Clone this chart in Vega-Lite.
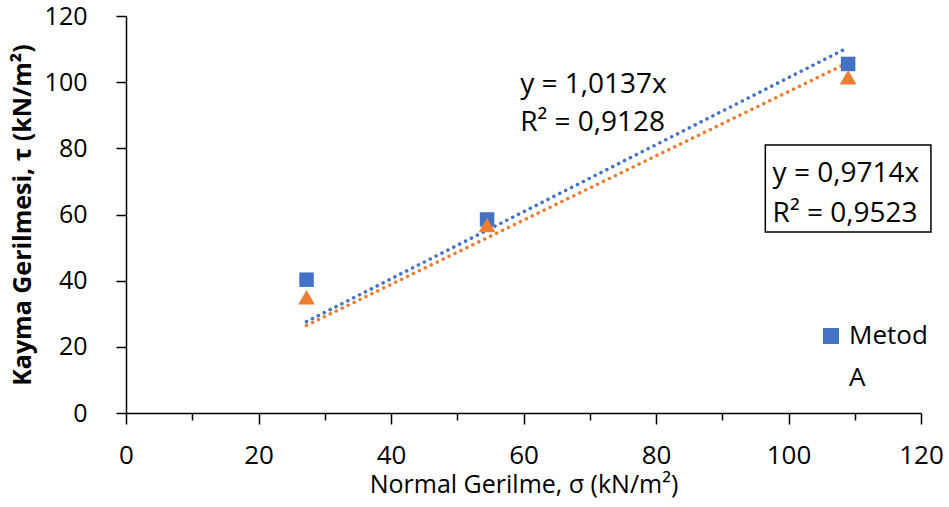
{
  "$schema": "https://vega.github.io/schema/vega-lite/v6.json",
  "width": 795,
  "height": 397,
  "autosize": {"type": "none"},
  "padding": {"left": 126, "top": 16, "right": 28, "bottom": 94},
  "background": "white",
  "config": {
    "view": {"stroke": null},
    "font": "Open Sans",
    "style": {"guide-label": {"lineHeight": 42}},
    "axis": {"grid": false, "domainColor": "black", "tickColor": "black", "domainWidth": 1.5, "tickWidth": 1.5, "labelColor": "black", "titleColor": "black", "labelFont": "Open Sans", "titleFont": "Open Sans"}
  },
  "datasets": {
    "pts": [
      {"sigma": 27.25, "tau": 40.3, "metod": "Metod A"},
      {"sigma": 54.5, "tau": 58.5, "metod": "Metod A"},
      {"sigma": 109, "tau": 105.5, "metod": "Metod A"},
      {"sigma": 27.25, "tau": 35.0, "metod": "Metod B"},
      {"sigma": 54.5, "tau": 56.8, "metod": "Metod B"},
      {"sigma": 109, "tau": 101.5, "metod": "Metod B"}
    ],
    "trend": [
      {"sigma": 27.25, "tau": 27.62, "metod": "Metod A"},
      {"sigma": 109, "tau": 110.49, "metod": "Metod A"},
      {"sigma": 27.25, "tau": 26.47, "metod": "Metod B"},
      {"sigma": 109, "tau": 105.88, "metod": "Metod B"}
    ],
    "notes": [
      {"label": "eq1"}
    ]
  },
  "layer": [
    {
      "data": {"name": "trend"},
      "mark": {"type": "line", "strokeDash": [0.1, 6.5], "strokeCap": "round", "strokeWidth": 3.5},
      "encoding": {
        "x": {"field": "sigma", "type": "quantitative",
          "scale": {"domain": [0, 120], "nice": false},
          "axis": {"values": [0,5,10,15,20,25,30,35,40,45,50,55,60,65,70,75,80,85,90,95,100,105,110,115,120],
            "labelExpr": "datum.value % 20 === 0 ? datum.label : ''",
            "tickSize": {"condition": {"test": "datum.value % 20 === 0", "value": 11}, "value": 7},
            "labelPadding": 18, "labelFontSize": 26, "labelFlush": false,
            "title": "Normal Gerilme, σ (kN/m²)", "titleFontSize": 25, "titleFontWeight": "normal", "titlePadding": 4}},
        "y": {"field": "tau", "type": "quantitative",
          "scale": {"domain": [0, 120], "nice": false},
          "axis": {"values": [0,5,10,15,20,25,30,35,40,45,50,55,60,65,70,75,80,85,90,95,100,105,110,115,120],
            "labelExpr": "datum.value % 20 === 0 ? datum.label : ''",
            "tickSize": {"condition": {"test": "datum.value % 20 === 0", "value": 10}, "value": 8},
            "labelPadding": 29, "labelFontSize": 25, "labelFlush": false,
            "title": "Kayma Gerilmesi, τ (kN/m²)", "titleFontSize": 25, "titleFontWeight": "bold", "titlePadding": 9,
            "titleAnchor": "middle", "titleY": 198.5, "titleAlign": "center", "titleAngle": 270}},
        "color": {"field": "metod", "type": "nominal",
          "scale": {"domain": ["Metod A", "Metod B"], "range": ["#4472C4", "#ED7D31"]},
          "legend": {"values": ["Metod A"], "title": null, "orient": "none", "legendX": 692, "legendY": 307,
            "labelExpr": "['Metod', 'A']", "labelFontSize": 26, "labelColor": "black", "labelFont": "Open Sans", "symbolSize": 210, "symbolType": "square", "labelOffset": 5, "labelBaseline": "middle", "padding": 0}},
        "detail": {"field": "metod"}
      }
    },
    {
      "data": {"name": "pts"},
      "mark": {"type": "point", "filled": true, "opacity": 1},
      "encoding": {
        "x": {"field": "sigma", "type": "quantitative"},
        "y": {"field": "tau", "type": "quantitative"},
        "color": {"field": "metod", "type": "nominal"},
        "shape": {"field": "metod", "type": "nominal",
          "scale": {"domain": ["Metod A", "Metod B"], "range": ["square", "triangle-up"]}, "legend": null},
        "size": {"condition": {"test": "datum.metod === 'Metod B'", "value": 280}, "value": 210}
      }
    },
    {
      "data": {"name": "notes"},
      "mark": {"type": "text", "align": "left", "baseline": "middle", "fontSize": 28, "font": "Open Sans", "color": "black"},
      "encoding": {"x": {"datum": 59.5}, "y": {"datum": 99}, "text": {"value": "y = 1,0137x"}}
    },
    {
      "data": {"name": "notes"},
      "mark": {"type": "text", "align": "left", "baseline": "middle", "fontSize": 28, "font": "Open Sans", "color": "black"},
      "encoding": {"x": {"datum": 59.5}, "y": {"datum": 87.6}, "text": {"value": "R² = 0,9128"}}
    },
    {
      "data": {"name": "notes"},
      "mark": {"type": "rect", "fill": "white", "stroke": "black", "strokeWidth": 1.5, "clip": false},
      "encoding": {"x": {"datum": 96.5}, "x2": {"datum": 121.5}, "y": {"datum": 81}, "y2": {"datum": 54.7}}
    },
    {
      "data": {"name": "notes"},
      "mark": {"type": "text", "align": "left", "baseline": "middle", "fontSize": 28, "font": "Open Sans", "color": "black"},
      "encoding": {"x": {"datum": 97.6}, "y": {"datum": 72.2}, "text": {"value": "y = 0,9714x"}}
    },
    {
      "data": {"name": "notes"},
      "mark": {"type": "text", "align": "left", "baseline": "middle", "fontSize": 28, "font": "Open Sans", "color": "black"},
      "encoding": {"x": {"datum": 97.6}, "y": {"datum": 60.1}, "text": {"value": "R² = 0,9523"}}
    }
  ]
}
